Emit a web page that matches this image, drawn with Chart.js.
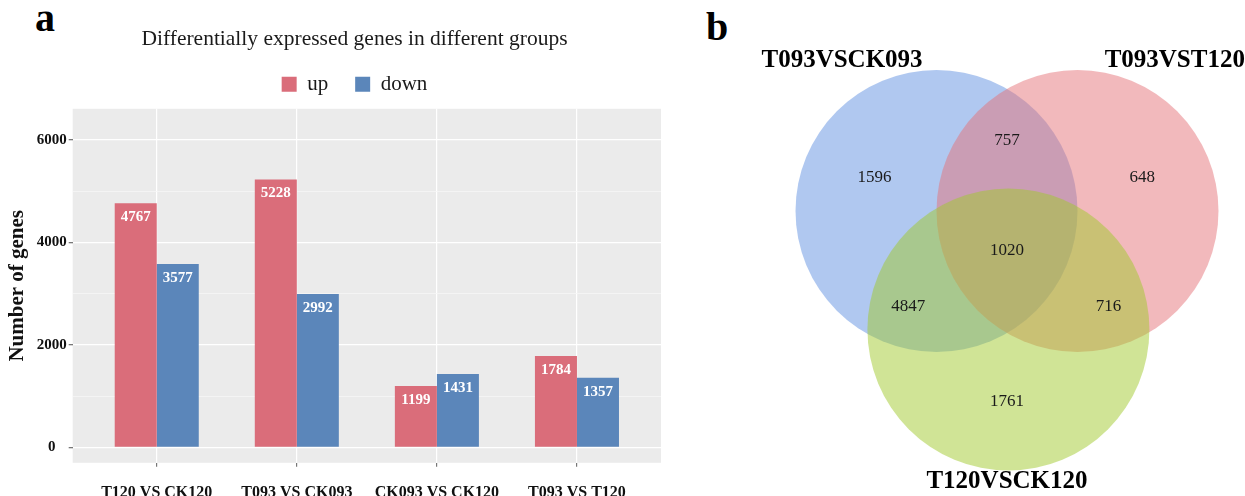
<!DOCTYPE html>
<html>
<head>
<meta charset="utf-8">
<script src="https://cdn.jsdelivr.net/npm/chart.js@4.4.0/dist/chart.umd.min.js"></script>
<style>
  html, body { margin: 0; padding: 0; background: #fff; overflow: hidden; }
  body { width: 1245px; height: 496px; position: relative; }
  .panel-tag { position: absolute; font: bold 40px "Liberation Serif", serif; line-height: 1; color: #000; }
  #wrapA { position: absolute; left: 0; top: 0; width: 706px; height: 518px; }
  #wrapB { position: absolute; left: 640px; top: 0; width: 605px; height: 496px; }
</style>
</head>
<body>
<div class="panel-tag" style="left:35px; top:-2px;">a</div>
<div class="panel-tag" style="left:706px; top:7px;">b</div>
<div id="wrapA"><canvas id="degChart"></canvas></div>
<div id="wrapB"><canvas id="vennChart"></canvas></div>
<script>
const SERIF = '"Liberation Serif", "Times New Roman", serif';

// panel a: differentially expressed genes
const groups = ['T120 VS CK120', 'T093 VS CK093', 'CK093 VS CK120', 'T093 VS T120'];
const upGenes = [4767, 5228, 1199, 1784];
const downGenes = [3577, 2992, 1431, 1357];
const yGridValues = [0, 1000, 2000, 3000, 4000, 5000, 6000];
const yTickLabels = [0, 2000, 4000, 6000];

// panel b: venn diagram
const vennSets = ['T093VSCK093', 'T093VST120', 'T120VSCK120'];
const vennRegions = ['T093VSCK093 only', 'T093VSCK093 & T093VST120', 'T093VST120 only', 'all three',
                     'T093VSCK093 & T120VSCK120', 'T093VST120 & T120VSCK120', 'T120VSCK120 only'];
const vennCounts = [1596, 757, 648, 1020, 4847, 716, 1761];

// venn layout, in units of one circle radius
const vennCentres = [{x: -0.5, y: 0}, {x: 0.5, y: 0}, {x: 0.01, y: -0.84}];
const regionAnchors = [{x: -0.94, y: 0.24}, {x: 0, y: 0.50}, {x: 0.96, y: 0.24}, {x: 0, y: -0.28},
                       {x: -0.70, y: -0.68}, {x: 0.72, y: -0.68}, {x: 0, y: -1.35}];
const setLabelAnchors = [{x: -1.17, y: 1.07}, {x: 1.19, y: 1.07}, {x: 0, y: -1.92}];
const vennFills = ['rgba(97,145,225,0.5)', 'rgba(229,115,121,0.5)', 'rgba(161,201,45,0.5)'];

const panelBg = {
  id: 'panelBg',
  beforeDraw(chart) {
    const { ctx, chartArea: a } = chart;
    ctx.save();
    ctx.fillStyle = '#ebebeb';
    ctx.fillRect(a.left, a.top, a.width, a.height);
    ctx.restore();
  }
};

const barValueLabels = {
  id: 'barValueLabels',
  afterDatasetsDraw(chart) {
    const ctx = chart.ctx;
    ctx.save();
    ctx.font = 'bold 15px ' + SERIF;
    ctx.fillStyle = '#ffffff';
    ctx.textAlign = 'center';
    ctx.textBaseline = 'middle';
    chart.data.datasets.forEach((ds, di) => {
      chart.getDatasetMeta(di).data.forEach((bar, i) => {
        ctx.fillText(String(ds.data[i].y), bar.x, bar.y + 14);
      });
    });
    ctx.restore();
  }
};

new Chart(document.getElementById('degChart'), {
  type: 'bar',
  data: {
    datasets: [
      { label: 'up', data: upGenes.map((v, i) => ({ x: i, y: v })), backgroundColor: '#da6d7a' },
      { label: 'down', data: downGenes.map((v, i) => ({ x: i, y: v })), backgroundColor: '#5b86ba' }
    ]
  },
  options: {
    responsive: true,
    maintainAspectRatio: false,
    animation: false,
    events: [],
    categoryPercentage: 0.6,
    barPercentage: 1,
    layout: { padding: { left: 3, top: 0, right: 0, bottom: 0 } },
    plugins: {
      title: {
        display: true,
        text: 'Differentially expressed genes in different groups',
        color: '#1a1a1a',
        font: { family: SERIF, size: 21.5, weight: 'normal' },
        padding: { top: 26, bottom: -5 }
      },
      legend: {
        labels: {
          boxWidth: 15, boxHeight: 15, padding: 27,
          color: '#1a1a1a',
          font: { family: SERIF, size: 21 }
        }
      },
      tooltip: { enabled: false }
    },
    scales: {
      x: {
        type: 'linear', min: -0.6, max: 3.6, offset: false,
        afterBuildTicks: s => { s.ticks = groups.map((g, i) => ({ value: i })); },
        ticks: {
          callback: (v, i) => groups[i],
          autoSkip: false, maxRotation: 0, padding: 16,
          color: '#111', font: { family: SERIF, size: 16, weight: 'bold' }
        },
        grid: { offset: false, color: '#ffffff', lineWidth: 1.2, tickLength: 4, tickColor: '#777' },
        border: { display: false }
      },
      y: {
        min: -301, max: 6608,
        afterBuildTicks: s => { s.ticks = yGridValues.map(v => ({ value: v })); },
        ticks: {
          callback: v => (yTickLabels.includes(v) ? String(v) : ''),
          crossAlign: 'center', padding: 2,
          color: '#111', font: { family: SERIF, size: 15, weight: 'bold' }
        },
        grid: {
          color: c => (yTickLabels.includes(c.tick.value) ? '#ffffff' : '#f6f6f6'),
          lineWidth: c => (yTickLabels.includes(c.tick.value) ? 1.3 : 0.8),
          tickLength: 4,
          tickColor: c => (yTickLabels.includes(c.tick.value) ? '#777' : 'rgba(0,0,0,0)')
        },
        border: { display: false },
        title: {
          display: true, text: 'Number of genes', color: '#111',
          font: { family: SERIF, size: 21, weight: 'bold' },
          padding: { top: 2, bottom: 4.5 }
        }
      },
      xTop: {
        type: 'linear', position: 'top', display: true,
        ticks: { display: false }, grid: { display: false }, border: { display: false },
        afterFit: s => { s.height = 4; }
      },
      yRight: {
        type: 'linear', position: 'right', display: true,
        ticks: { display: false }, grid: { display: false }, border: { display: false },
        afterFit: s => { s.width = 45; }
      }
    }
  },
  plugins: [panelBg, barValueLabels]
});

const vennText = {
  id: 'vennText',
  afterDatasetsDraw(chart) {
    const ctx = chart.ctx;
    ctx.save();
    ctx.textAlign = 'center';
    ctx.textBaseline = 'middle';
    ctx.fillStyle = '#1a1a1a';
    ctx.font = '17px ' + SERIF;
    chart.getDatasetMeta(1).data.forEach((pt, i) => {
      ctx.fillText(String(vennCounts[i]), pt.x, pt.y);
    });
    ctx.fillStyle = '#000';
    ctx.font = 'bold 25px ' + SERIF;
    chart.getDatasetMeta(2).data.forEach((pt, i) => {
      ctx.fillText(vennSets[i], pt.x, pt.y);
    });
    ctx.restore();
  }
};

new Chart(document.getElementById('vennChart'), {
  type: 'scatter',
  data: {
    datasets: [
      {
        label: 'sets', data: vennCentres, showLine: false,
        pointBackgroundColor: vennFills, pointBorderWidth: 0, pointHoverRadius: 0,
        pointRadius: c => c.chart.scales.x.getPixelForValue(1) - c.chart.scales.x.getPixelForValue(0)
      },
      { label: 'regions', data: regionAnchors, pointRadius: 0 },
      { label: 'set names', data: setLabelAnchors, pointRadius: 0 }
    ]
  },
  options: {
    responsive: true,
    maintainAspectRatio: false,
    animation: false,
    events: [],
    layout: { padding: 0 },
    plugins: { legend: { display: false }, tooltip: { enabled: false } },
    scales: {
      x: { type: 'linear', min: -2.603, max: 1.688, display: false },
      y: { type: 'linear', min: -2.021, max: 1.496, display: false }
    }
  },
  plugins: [vennText]
});
</script>
</body>
</html>
